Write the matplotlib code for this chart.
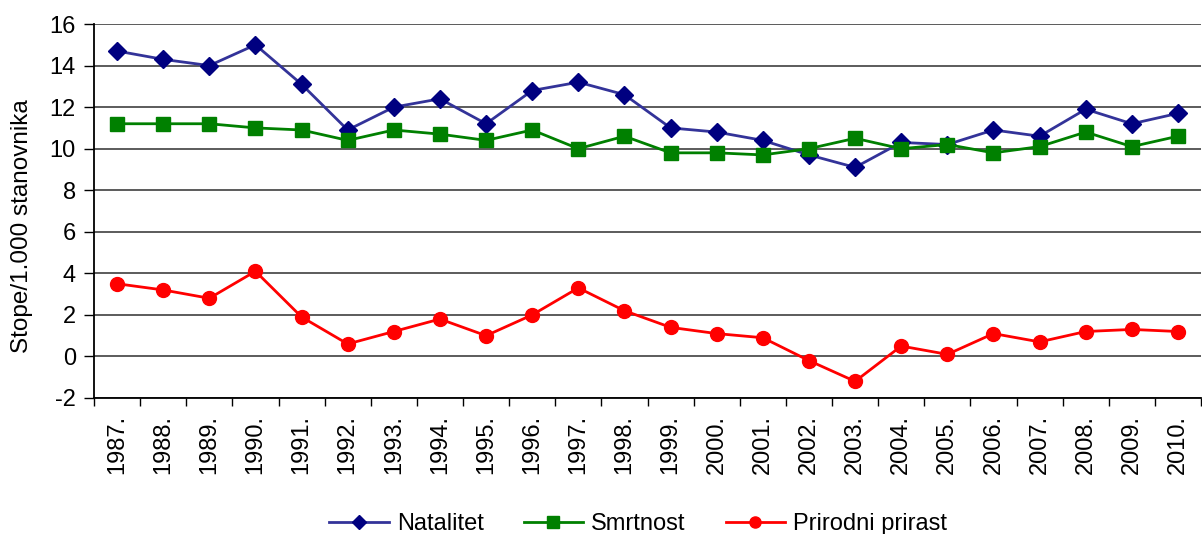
import matplotlib
matplotlib.use("Agg")
import matplotlib.pyplot as plt
import numpy as np

plt.rcParams['font.family'] = ['Liberation Sans', 'DejaVu Sans']
plt.rcParams['axes.unicode_minus'] = False

godine = [str(g) + "." for g in range(1987, 2011)]
natalitet = [14.7, 14.3, 14.0, 15.0, 13.1, 10.9, 12.0, 12.4, 11.2, 12.8, 13.2, 12.6,
             11.0, 10.8, 10.4, 9.7, 9.1, 10.3, 10.2, 10.9, 10.6, 11.9, 11.2, 11.7]
smrtnost = [11.2, 11.2, 11.2, 11.0, 10.9, 10.4, 10.9, 10.7, 10.4, 10.9, 10.0, 10.6,
            9.8, 9.8, 9.7, 10.0, 10.5, 10.0, 10.2, 9.8, 10.1, 10.8, 10.1, 10.6]
prirast = [3.5, 3.2, 2.8, 4.1, 1.9, 0.6, 1.2, 1.8, 1.0, 2.0, 3.3, 2.2,
           1.4, 1.1, 0.9, -0.2, -1.2, 0.5, 0.1, 1.1, 0.7, 1.2, 1.3, 1.2]

fig = plt.figure(figsize=(12.02, 5.34), dpi=100)
ax = fig.add_axes([0.0782, 0.2547, 0.921, 0.7003])

x = np.arange(len(godine))
ax.plot(x, natalitet, '-D', color='#333399', mfc='#000080', mec='#000080',
        lw=2, ms=9, label='Natalitet', zorder=3)
ax.plot(x, smrtnost, '-s', color='#008000', mfc='#008000', mec='#008000',
        lw=2, ms=10, label='Smrtnost', zorder=3)
ax.plot(x, prirast, '-o', color='#ff0000', mfc='#ff0000', mec='#ff0000',
        lw=2, ms=10, label='Prirodni prirast', zorder=3)

ax.set_xlim(-0.5, len(godine) - 0.5)
ax.set_ylim(-2, 16)
ax.set_yticks(np.arange(-2, 17, 2))
ax.yaxis.grid(True, color='#404040', lw=1.2)
ax.set_axisbelow(True)

ax.set_xticks(x)
ax.set_xticklabels(godine, rotation=90, fontsize=17)
ax.set_xticks(np.arange(-0.5, len(godine), 1), minor=True)
ax.tick_params(axis='x', which='major', length=0, pad=12)
ax.tick_params(axis='x', which='minor', length=6, width=1, direction='out')
ax.tick_params(axis='y', labelsize=17, length=7, width=1, direction='out', pad=6)

for s in ['top', 'right']:
    ax.spines[s].set_visible(False)
ax.spines['left'].set_linewidth(1.3)
ax.spines['bottom'].set_linewidth(1.3)

ax.set_ylabel('Stope/1.000 stanovnika', fontsize=17.5)
ax.yaxis.set_label_coords(-0.055, 0.46)

fig.legend(loc='center', bbox_to_anchor=(0.531, 0.019), ncol=3, frameon=False,
           fontsize=17, handlelength=2.5, handletextpad=0.35, columnspacing=1.7,
           markerscale=0.8)

fig.savefig('out.png', dpi=100)
